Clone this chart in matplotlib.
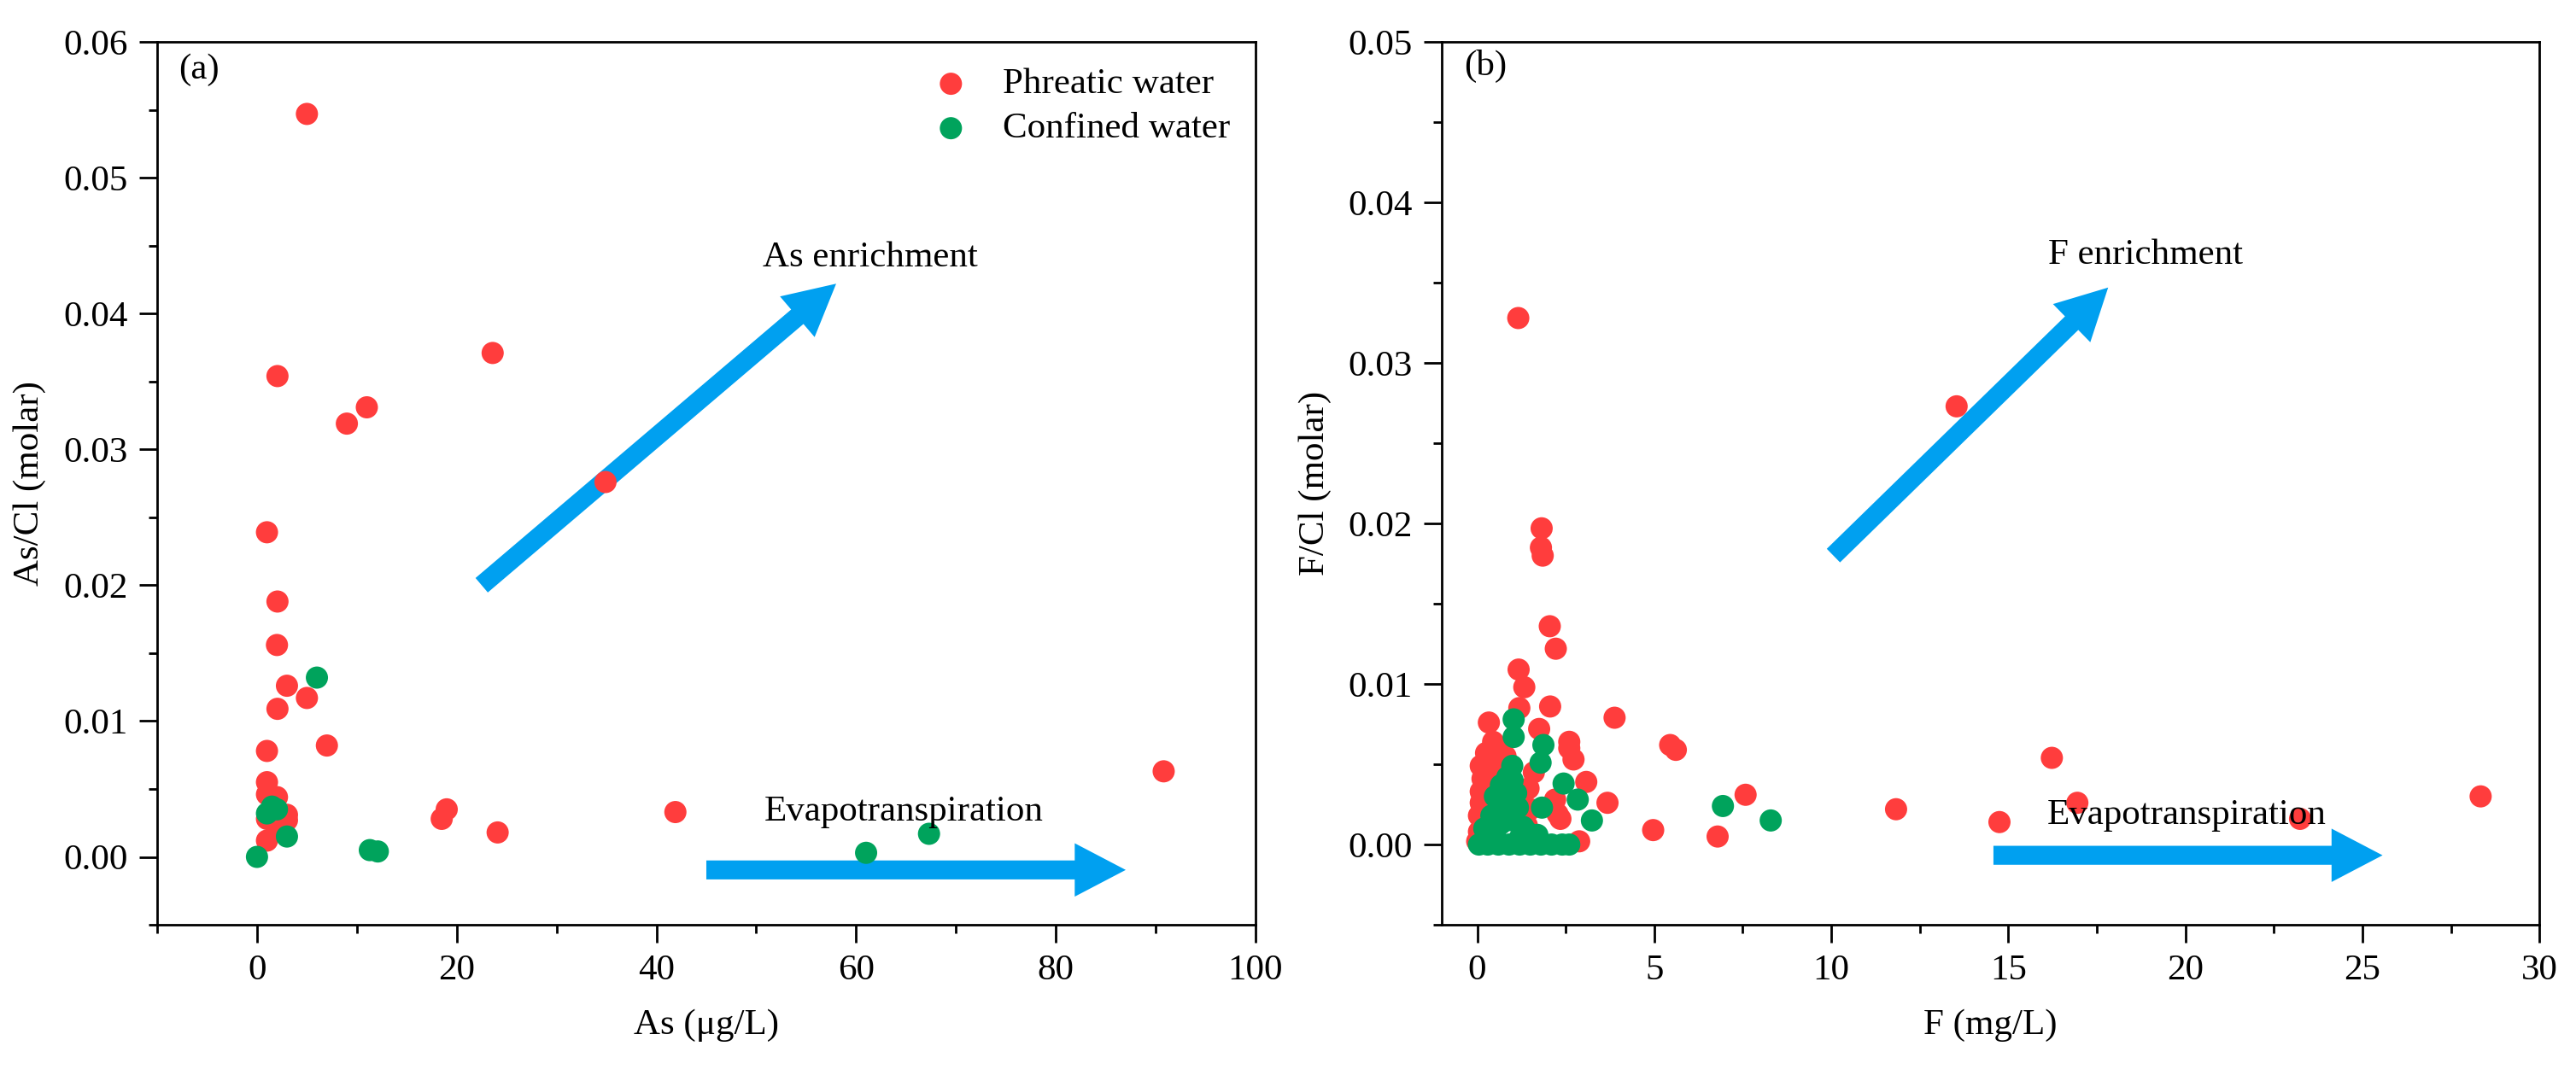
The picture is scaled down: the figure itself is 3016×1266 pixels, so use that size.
import matplotlib

matplotlib.use("Agg")
import matplotlib.pyplot as plt
from matplotlib.patches import FancyArrowPatch
from matplotlib.ticker import MultipleLocator, FormatStrFormatter

plt.rcParams["font.family"] = ["Liberation Serif", "DejaVu Serif"]

RED = "#FF3D3D"
GREEN = "#00A35C"
BLUE = "#00A0F0"
FS = 31

# ---- panel (a): As vs As/Cl ----
as_phr_x = [5.0, 2.05, 9.0, 11.0, 23.6, 34.9, 1.0, 2.05, 2.0, 3.0, 5.0, 2.05, 1.0, 7.0,
            1.0, 1.0, 2.0, 3.0, 1.0, 3.0, 2.0, 1.0, 19.0, 18.5, 24.1, 41.9, 90.8]
as_phr_y = [0.0547, 0.0354, 0.0319, 0.0331, 0.0371, 0.0276, 0.0239, 0.0188, 0.0156, 0.0126,
            0.0117, 0.0109, 0.0078, 0.0082, 0.0055, 0.0046, 0.0044, 0.0031, 0.0028, 0.0027,
            0.0020, 0.0012, 0.0035, 0.0028, 0.0018, 0.0033, 0.0063]
as_con_x = [6.0, 1.5, 1.0, 2.0, 3.0, 0.0, 11.3, 12.1, 61.0, 67.3]
as_con_y = [0.0132, 0.0037, 0.0032, 0.0035, 0.0015, 0.0000, 0.0005, 0.0004, 0.0003, 0.0017]

# ---- panel (b): F vs F/Cl ----
f_phr_x = [1.16, 13.54, 1.82, 1.80, 1.85, 2.05, 2.22, 1.17, 1.33, 2.06, 1.19, 0.33, 1.75,
           3.88, 2.6, 2.72, 3.08, 3.68, 2.2, 2.35, 2.27, 2.88, 5.45, 5.61, 7.58, 4.97, 6.79,
           11.83, 14.75, 16.23, 16.95, 23.24, 28.34,
           0.1, 0.1, 0.05, 0.25, 0.45, 0.6, 0.3, 0.2, 0.05, 0.0, 0.5, 1.45, 1.5, 1.6, 0.8,
           2.6, 1.4, 0.15, 0.4, 0.1]
f_phr_y = [0.0328, 0.0273, 0.0197, 0.0185, 0.0180, 0.0136, 0.0122, 0.0109, 0.0098, 0.0086,
           0.0085, 0.0076, 0.0072, 0.0079, 0.0064, 0.0053, 0.0039, 0.0026, 0.0028, 0.0016,
           0.0019, 0.0002, 0.0062, 0.0059, 0.0031, 0.0009, 0.0005, 0.0022, 0.0014, 0.0054,
           0.0026, 0.0016, 0.0030,
           0.0049, 0.0033, 0.0018, 0.0057, 0.0064, 0.0060, 0.0040, 0.0025, 0.0008, 0.0002,
           0.0048, 0.0035, 0.0022, 0.0045, 0.0055, 0.0060, 0.0012, 0.0041, 0.0052, 0.0026]
f_con_x = [1.03, 1.03, 1.87, 1.79, 0.99, 2.44, 2.84, 3.24, 1.83, 0.67, 1.0, 1.15, 0.67, 1.3,
           0.9, 0.5, 0.8, 0.05, 0.3, 0.6, 0.9, 1.2, 1.5, 1.8, 2.1, 2.4, 2.6, 1.4, 1.7,
           0.2, 0.4, 0.7, 1.1, 0.5, 1.0, 0.85, 1.2,
           6.94, 8.29]
f_con_y = [0.0078, 0.0067, 0.0062, 0.0051, 0.0049, 0.0038, 0.0028, 0.0015, 0.0023, 0.0037,
           0.0040, 0.0023, 0.0013, 0.0011, 0.0027, 0.0030, 0.0020, 0.0, 0.0, 0.0, 0.0, 0.0,
           0.0, 0.0, 0.0, 0.0, 0.0, 0.0008, 0.0006,
           0.0010, 0.0018, 0.0025, 0.0032, 0.0006, 0.0015, 0.0042, 0.0004,
           0.0024, 0.0015]


def arrow(ax, tail, tip):
    ax.add_patch(FancyArrowPatch(
        tail, tip, arrowstyle="simple,head_length=4.3,head_width=4.5,tail_width=1.6",
        mutation_scale=10, color=BLUE, lw=0, shrinkA=0, shrinkB=0, zorder=1,
    ))


def style(ax, xmaj, xmin, ymaj, ymin):
    ax.xaxis.set_major_locator(MultipleLocator(xmaj))
    ax.xaxis.set_minor_locator(MultipleLocator(xmin))
    ax.yaxis.set_major_locator(MultipleLocator(ymaj))
    ax.yaxis.set_minor_locator(MultipleLocator(ymin))
    ax.yaxis.set_major_formatter(FormatStrFormatter("%.2f"))
    ax.tick_params(which="major", length=15, width=2, direction="out", labelsize=FS, pad=10)
    ax.tick_params(which="minor", length=7, width=2, direction="out")
    for s in ax.spines.values():
        s.set_linewidth(2)


fig = plt.figure(figsize=(30.16, 12.66), dpi=100)
axa = fig.add_axes([0.0610, 0.1445, 0.4264, 0.8167])
axb = fig.add_axes([0.5597, 0.1445, 0.4261, 0.8167])

# (a)
axa.scatter(as_phr_x, as_phr_y, s=350, color=RED, edgecolors="none", zorder=2, label="Phreatic water")
axa.scatter(as_con_x, as_con_y, s=350, color=GREEN, edgecolors="none", zorder=3, label="Confined water")
arrow(axa, (22.5, 0.0200), (58.0, 0.0422))
arrow(axa, (45.0, -0.00096), (87.0, -0.00096))
axa.text(61.4, 0.0441, "As enrichment", fontsize=FS, ha="center", va="center", zorder=4)
axa.text(64.8, 0.0033, "Evapotranspiration", fontsize=FS, ha="center", va="center", zorder=4)
axa.text(0.038, 0.968, "(a)", transform=axa.transAxes, fontsize=FS, ha="center", va="center")
axa.set_xlim(-10, 100)
axa.set_ylim(-0.005, 0.06)
style(axa, 20, 10, 0.01, 0.005)
axa.set_xlabel("As (μg/L)", fontsize=FS, labelpad=18)
axa.set_ylabel("As/Cl (molar)", fontsize=FS, labelpad=14)
axa.legend(loc="upper right", frameon=False, fontsize=FS, handletextpad=0.4,
           labelspacing=0.3, borderaxespad=0.3, scatterpoints=1)

# (b)
axb.scatter(f_phr_x, f_phr_y, s=350, color=RED, edgecolors="none", zorder=2)
axb.scatter(f_con_x, f_con_y, s=350, color=GREEN, edgecolors="none", zorder=3)
arrow(axb, (10.06, 0.0180), (17.82, 0.0347))
arrow(axb, (14.58, -0.00067), (25.57, -0.00067))
axb.text(18.87, 0.0367, "F enrichment", fontsize=FS, ha="center", va="center", zorder=4)
axb.text(20.04, 0.0018, "Evapotranspiration", fontsize=FS, ha="center", va="center", zorder=4)
axb.text(0.040, 0.973, "(b)", transform=axb.transAxes, fontsize=FS, ha="center", va="center")
axb.set_xlim(-1, 30)
axb.set_ylim(-0.005, 0.05)
style(axb, 5, 2.5, 0.01, 0.005)
axb.set_xlabel("F (mg/L)", fontsize=FS, labelpad=18)
axb.set_ylabel("F/Cl (molar)", fontsize=FS, labelpad=14)

fig.savefig("out.png", dpi=100)
